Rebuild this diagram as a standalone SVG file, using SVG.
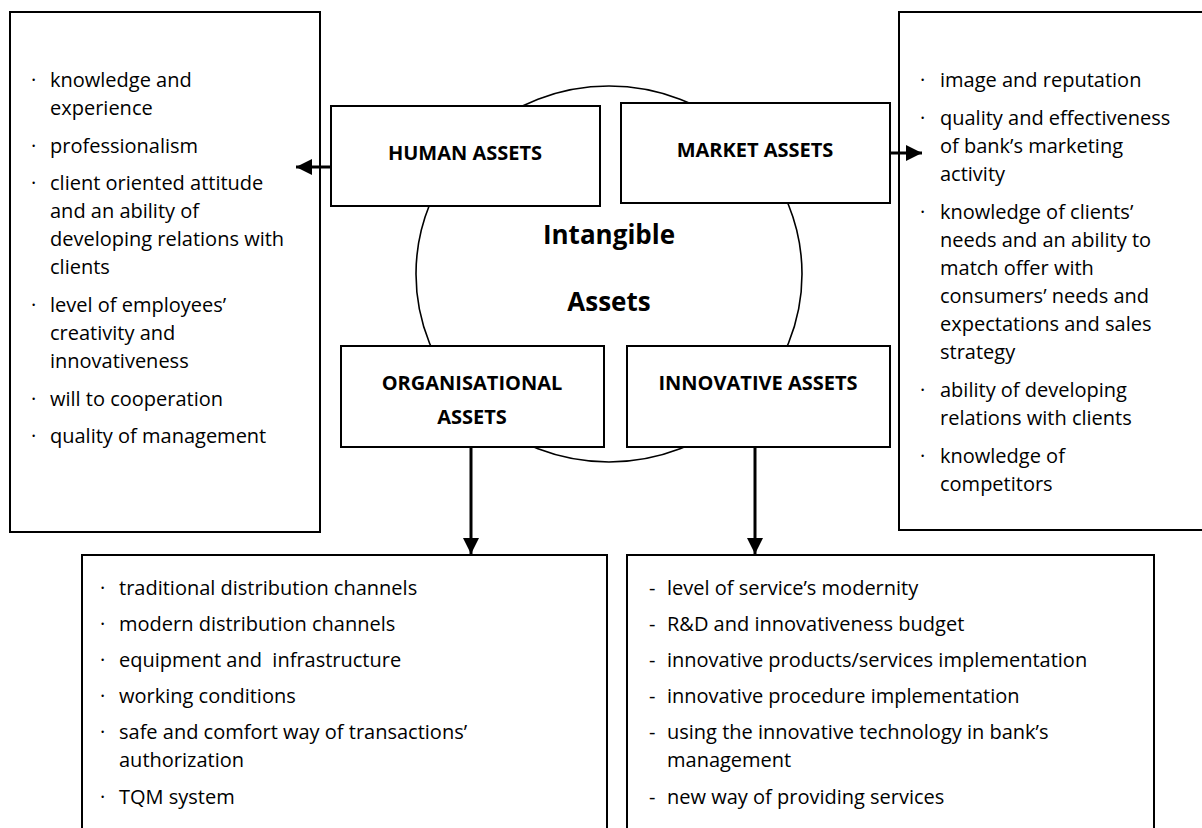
<svg xmlns="http://www.w3.org/2000/svg" width="1202" height="828" viewBox="0 0 1202 828">
  <defs>
    <marker id="head" viewBox="0 0 16 16" refX="16" refY="8" markerWidth="16" markerHeight="16" markerUnits="userSpaceOnUse" orient="auto">
      <path d="M0,0 L16,8 L0,16 Z" fill="#000"/>
    </marker>
    <style>
      .box { fill: #fff; stroke: #000; stroke-width: 2; }
      .ring { fill: none; stroke: #000; stroke-width: 1.6; }
      .link { fill: none; stroke: #000; stroke-width: 3; }
      .item { font-family: "Open Sans", "Liberation Sans", sans-serif; font-size: 20px; fill: #000; }
      .label { font-family: "Open Sans", "Liberation Sans", sans-serif; font-size: 20px; font-weight: bold; fill: #000; text-anchor: middle; }
      .title { font-family: "Open Sans", "Liberation Sans", sans-serif; font-size: 26px; font-weight: bold; fill: #000; text-anchor: middle; }
    </style>
  </defs>
  <rect width="1202" height="828" fill="#fff"/>

  <!-- detail lists -->
  <g id="human-details">
    <rect class="box" x="10" y="12" width="310" height="520"/>
    <text class="item">
      <tspan x="31" y="87">·</tspan><tspan x="50" y="87">knowledge and</tspan>
      <tspan x="50" y="115">experience</tspan>
      <tspan x="31" y="153">·</tspan><tspan x="50" y="153">professionalism</tspan>
      <tspan x="31" y="190">·</tspan><tspan x="50" y="190">client oriented attitude</tspan>
      <tspan x="50" y="218">and an ability of</tspan>
      <tspan x="50" y="246">developing relations with</tspan>
      <tspan x="50" y="274">clients</tspan>
      <tspan x="31" y="312">·</tspan><tspan x="50" y="312">level of employees’</tspan>
      <tspan x="50" y="340">creativity and</tspan>
      <tspan x="50" y="368">innovativeness</tspan>
      <tspan x="31" y="406">·</tspan><tspan x="50" y="406">will to cooperation</tspan>
      <tspan x="31" y="443">·</tspan><tspan x="50" y="443">quality of management</tspan>
    </text>
  </g>

  <g id="market-details">
    <rect class="box" x="899" y="12" width="320" height="518"/>
    <text class="item">
      <tspan x="920" y="87">·</tspan><tspan x="940" y="87">image and reputation</tspan>
      <tspan x="920" y="125">·</tspan><tspan x="940" y="125">quality and effectiveness</tspan>
      <tspan x="940" y="153">of bank’s marketing</tspan>
      <tspan x="940" y="181">activity</tspan>
      <tspan x="920" y="219">·</tspan><tspan x="940" y="219">knowledge of clients’</tspan>
      <tspan x="940" y="247">needs and an ability to</tspan>
      <tspan x="940" y="275">match offer with</tspan>
      <tspan x="940" y="303">consumers’ needs and</tspan>
      <tspan x="940" y="331">expectations and sales</tspan>
      <tspan x="940" y="359">strategy</tspan>
      <tspan x="920" y="397">·</tspan><tspan x="940" y="397">ability of developing</tspan>
      <tspan x="940" y="425">relations with clients</tspan>
      <tspan x="920" y="463">·</tspan><tspan x="940" y="463">knowledge of</tspan>
      <tspan x="940" y="491">competitors</tspan>
    </text>
  </g>

  <g id="organisational-details">
    <rect class="box" x="82" y="555" width="525" height="290"/>
    <text class="item">
      <tspan x="100" y="595">·</tspan><tspan x="119" y="595">traditional distribution channels</tspan>
      <tspan x="100" y="631">·</tspan><tspan x="119" y="631">modern distribution channels</tspan>
      <tspan x="100" y="667">·</tspan><tspan x="119" y="667" xml:space="preserve">equipment and  infrastructure</tspan>
      <tspan x="100" y="703">·</tspan><tspan x="119" y="703">working conditions</tspan>
      <tspan x="100" y="739">·</tspan><tspan x="119" y="739">safe and comfort way of transactions’</tspan>
      <tspan x="119" y="767">authorization</tspan>
      <tspan x="100" y="804">·</tspan><tspan x="119" y="804">TQM system</tspan>
    </text>
  </g>

  <g id="innovative-details">
    <rect class="box" x="627" y="555" width="527" height="290"/>
    <text class="item">
      <tspan x="649" y="595">-</tspan><tspan x="667" y="595">level of service’s modernity</tspan>
      <tspan x="649" y="631">-</tspan><tspan x="667" y="631">R&amp;D and innovativeness budget</tspan>
      <tspan x="649" y="667">-</tspan><tspan x="667" y="667">innovative products/services implementation</tspan>
      <tspan x="649" y="703">-</tspan><tspan x="667" y="703">innovative procedure implementation</tspan>
      <tspan x="649" y="739">-</tspan><tspan x="667" y="739">using the innovative technology in bank’s</tspan>
      <tspan x="667" y="767">management</tspan>
      <tspan x="649" y="804">-</tspan><tspan x="667" y="804">new way of providing services</tspan>
    </text>
  </g>

  <!-- central ring -->
  <g id="intangible-assets">
    <ellipse class="ring" cx="609" cy="274" rx="193" ry="188"/>
    <text class="title" x="609" y="244">Intangible</text>
    <text class="title" x="609" y="311">Assets</text>
  </g>

  <g id="human-assets">
    <rect class="box" x="331" y="106" width="269" height="100"/>
    <text class="label" x="465" y="160">HUMAN ASSETS</text>
  </g>

  <g id="market-assets">
    <rect class="box" x="621" y="103" width="269" height="100"/>
    <text class="label" x="755" y="157">MARKET ASSETS</text>
  </g>

  <g id="organisational-assets">
    <rect class="box" x="341" y="346" width="263" height="101"/>
    <text class="label" x="472" y="390">ORGANISATIONAL</text>
    <text class="label" x="472" y="424">ASSETS</text>
  </g>

  <g id="innovative-assets">
    <rect class="box" x="627" y="346" width="263" height="101"/>
    <text class="label" x="758" y="390">INNOVATIVE ASSETS</text>
  </g>

  <!-- connectors -->
  <g id="connectors">
    <line class="link" x1="331" y1="167" x2="296" y2="167" marker-end="url(#head)"/>
    <line class="link" x1="890" y1="153" x2="922" y2="153" marker-end="url(#head)"/>
    <line class="link" x1="471" y1="447" x2="471" y2="554" marker-end="url(#head)"/>
    <line class="link" x1="755" y1="447" x2="755" y2="554" marker-end="url(#head)"/>
  </g>
</svg>
